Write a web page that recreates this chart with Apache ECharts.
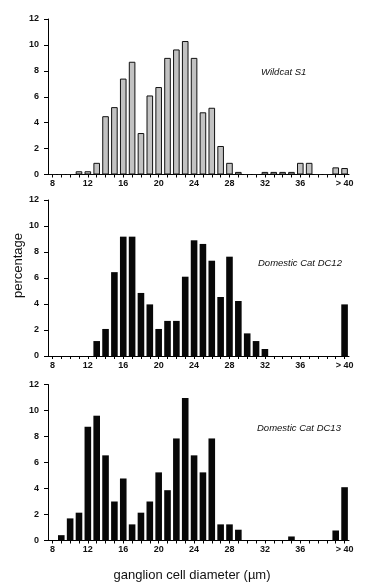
<!DOCTYPE html>
<html>
<head>
<meta charset="utf-8">
<script src="https://cdn.jsdelivr.net/npm/echarts@6/dist/echarts.min.js"></script>
<style>
  html, body { margin: 0; padding: 0; background: #fff; }
  #chart { width: 370px; height: 586px; }
</style>
</head>
<body>
<div id="chart"></div>
<script>
// Bin categories (ganglion cell diameter, µm)
const categories = ['8','9','10','11','12','13','14','15','16','17','18','19','20','21','22','23','24','25','26','27','28','29','30','31','32','33','34','35','36','37','38','39','40','> 40'];
// Labels shown on the x axis
const xTickLabels = ['8','12','16','20','24','28','32','36','> 40'];
// Percentages per bin
const wildcatS1 = [0,0,0,0.25,0.25,0.9,4.5,5.2,7.4,8.7,3.2,6.1,6.75,9.0,9.65,10.3,9.0,4.8,5.15,2.2,0.9,0.2,0,0,0.2,0.2,0.2,0.2,0.9,0.9,0,0,0.55,0.5];
const domesticDC12 = [0,0,0,0,0,1.15,2.08,6.45,9.18,9.18,4.85,3.97,2.08,2.7,2.7,6.1,8.9,8.62,7.33,4.54,7.64,4.23,1.74,1.15,0.54,0,0,0,0,0,0,0,0,3.97];
const domesticDC13 = [0,0.41,1.7,2.14,8.75,9.6,6.55,3.0,4.77,1.24,2.14,3.0,5.24,3.87,7.85,10.97,6.55,5.24,7.85,1.24,1.24,0.83,0,0,0,0,0,0.31,0,0,0,0,0.77,4.1];
const panelNames = ['Wildcat S1','Domestic Cat DC12','Domestic Cat DC13'];
const yTicks = { min: 0, max: 12, interval: 2 };

const FONT = '"Liberation Sans", Arial, Helvetica, sans-serif';
const grids = [
  { left: 48, right: 21, top: 19, height: 155.5 },
  { left: 48, right: 21, top: 200, height: 156 },
  { left: 48, right: 21, top: 384.5, height: 156 }
];

function xAxisFor(i) {
  return {
    type: 'category', gridIndex: i, data: categories,
    boundaryGap: true,
    axisLine: { lineStyle: { color: '#000', width: 1 } },
    axisTick: { show: true, interval: 0, alignWithLabel: true, length: 3, lineStyle: { color: '#000' } },
    axisLabel: {
      interval: function (idx, val) { return xTickLabels.indexOf(val) >= 0; },
      color: '#111', fontSize: 9, fontWeight: 'bold', fontFamily: FONT, margin: 5
    },
    splitLine: { show: false }
  };
}
function yAxisFor(i) {
  return {
    type: 'value', gridIndex: i, min: yTicks.min, max: yTicks.max, interval: yTicks.interval,
    axisLine: { show: true, lineStyle: { color: '#000', width: 1 } },
    axisTick: { show: true, length: 4, lineStyle: { color: '#000' } },
    axisLabel: { color: '#111', fontSize: 9, fontWeight: 'bold', fontFamily: FONT, margin: 9 },
    splitLine: { show: false }
  };
}

const seriesData = [wildcatS1, domesticDC12, domesticDC13];
const series = seriesData.map(function (d, i) {
  return {
    type: 'bar', xAxisIndex: i, yAxisIndex: i, data: d,
    barWidth: 6.6,
    itemStyle: i === 0
      ? { color: '#c2c2c2', borderColor: '#111', borderWidth: 1 }
      : { color: '#080808' },
    silent: true
  };
});

const labelPos = [
  { left: 261, top: 67 },
  { left: 258, top: 258 },
  { left: 257, top: 423 }
];

const chart = echarts.init(document.getElementById('chart'), null, { renderer: 'canvas' });
chart.setOption({
  backgroundColor: '#fff',
  animation: false,
  grid: grids,
  xAxis: [0,1,2].map(xAxisFor),
  yAxis: [0,1,2].map(yAxisFor),
  series: series,
  graphic: panelNames.map(function (n, i) {
    return {
      type: 'text', left: labelPos[i].left, top: labelPos[i].top,
      style: { text: n, fontSize: 9.5, fontStyle: 'italic', fontFamily: FONT, fill: '#111' }
    };
  }).concat([
    {
      type: 'text', x: 18, y: 265.5, rotation: Math.PI / 2,
      style: { text: 'percentage', fontSize: 13, fontFamily: FONT, fill: '#111',
               align: 'center', verticalAlign: 'middle' }
    },
    {
      type: 'text', x: 192, y: 575,
      style: { text: 'ganglion cell diameter (µm)', fontSize: 13, fontFamily: FONT, fill: '#111',
               align: 'center', verticalAlign: 'middle' }
    }
  ])
});
</script>
</body>
</html>
